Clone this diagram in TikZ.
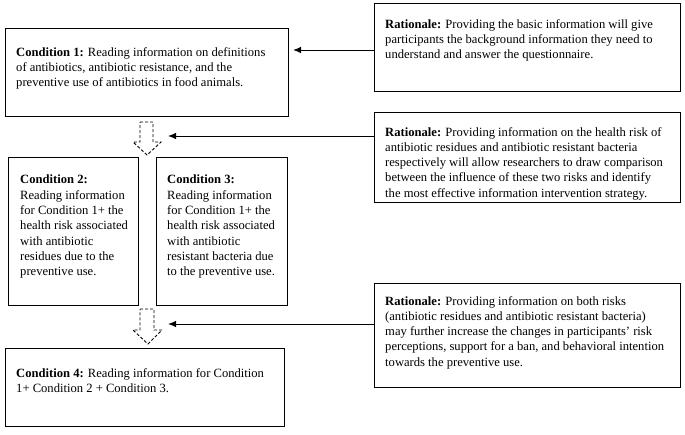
\documentclass[tikz,border=0pt]{standalone}
\usepackage{fontspec}
\setmainfont{Liberation Serif}
\usetikzlibrary{arrows.meta}
\begin{document}
\begin{tikzpicture}[x={(1pt,0)}, y={(0,-1pt)},
  boxnode/.style={draw=black, line width=0.8pt, inner sep=0pt, anchor=north west},
  txt/.style={inner sep=0pt, anchor=north west, align=left, font=\fontsize{12.6}{15.3}\selectfont},
  conn/.style={line width=1pt, -{Latex[length=8pt,width=6.5pt]}},
  hollow/.style={draw=black, line width=0.9pt, dash pattern=on 3pt off 2pt, line join=miter}]
\useasboundingbox (0,0) rectangle (685,434);
% boxes
\node[boxnode, minimum width=283pt, minimum height=88pt] (c1) at (5,28) {};
\node[boxnode, minimum width=306pt, minimum height=88pt] (r1) at (374,3) {};
\node[boxnode, minimum width=306pt, minimum height=90pt] (r2) at (374,112) {};
\node[boxnode, minimum width=130pt, minimum height=148pt] (c2) at (8,157) {};
\node[boxnode, minimum width=131pt, minimum height=148pt] (c3) at (156,157) {};
\node[boxnode, minimum width=306pt, minimum height=104pt] (r3) at (374,283) {};
\node[boxnode, minimum width=279pt, minimum height=78pt] (c4) at (5,348) {};
% texts
\node[txt] (c1t) at ([xshift=11pt,yshift=-19pt]c1.north west)
  {\textbf{Condition 1:} Reading information on definitions\\ of antibiotics, antibiotic resistance, and the\\ preventive use of antibiotics in food animals.};
\node[txt] (r1t) at ([xshift=11pt,yshift=-16pt]r1.north west)
  {\textbf{Rationale:} Providing the basic information will give\\ participants the background information they need to\\ understand and answer the questionnaire.};
\node[txt] (r2t) at ([xshift=11pt,yshift=-15pt]r2.north west)
  {\textbf{Rationale:} Providing information on the health risk of\\ antibiotic residues and antibiotic resistant bacteria\\ respectively will allow researchers to draw comparison\\ between the influence of these two risks and identify\\ the most effective information intervention strategy.};
\node[txt] (c2t) at ([xshift=12pt,yshift=-18pt]c2.north west)
  {\textbf{Condition 2:}\\ Reading information\\ for Condition 1+ the\\ health risk associated\\ with antibiotic\\ residues due to the\\ preventive use.};
\node[txt] (c3t) at ([xshift=11pt,yshift=-18pt]c3.north west)
  {\textbf{Condition 3:}\\ Reading information\\ for Condition 1+ the\\ health risk associated\\ with antibiotic\\ resistant bacteria due\\ to the preventive use.};
\node[txt] (r3t) at ([xshift=11pt,yshift=-13pt]r3.north west)
  {\textbf{Rationale:} Providing information on both risks\\ (antibiotic residues and antibiotic resistant bacteria)\\ may further increase the changes in participants’ risk\\ perceptions, support for a ban, and behavioral intention\\ towards the preventive use.};
\node[txt] (c4t) at ([xshift=11pt,yshift=-20pt]c4.north west)
  {\textbf{Condition 4:} Reading information for Condition\\ 1+ Condition 2 + Condition 3.};
% hollow dashed arrows
\draw[hollow] (140,122) -- (153,122) -- (153,142) -- (161,142) -- (147,155) -- (133,142) -- (140,142) -- cycle;
\draw[hollow] (140,309) -- (154,309) -- (154,330) -- (162,330) -- (148,344) -- (133,330) -- (140,330) -- cycle;
\coordinate (d1) at (168,136);
\coordinate (d2) at (168,324);
\coordinate (t1) at (293,50);
% connectors
\draw[conn] (r1.west |- t1) -- (t1);
\draw[conn] (r2.west |- d1) -- (d1);
\draw[conn] (r3.west |- d2) -- (d2);
\end{tikzpicture}
\end{document}
